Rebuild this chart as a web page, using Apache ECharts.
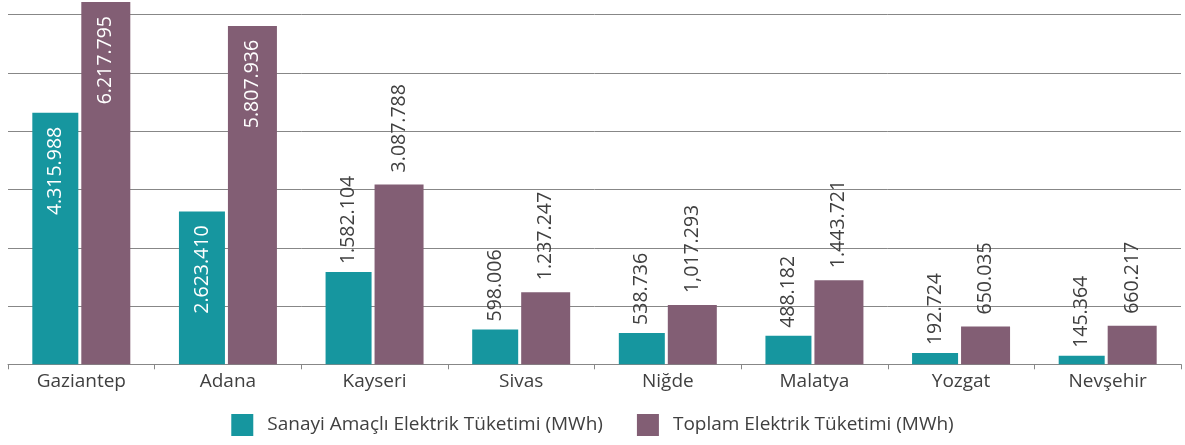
<!DOCTYPE html>
<html><head><meta charset="utf-8">
<script src="https://cdn.jsdelivr.net/npm/echarts@6/dist/echarts.min.js"></script>
<style>html,body{margin:0;padding:0;background:#fff}#c{width:1185px;height:445px}</style>
</head><body><div id="c"></div>
<script>
const categories = ['Gaziantep','Adana','Kayseri','Sivas','Niğde','Malatya','Yozgat','Nevşehir'];
const sanayiValues = [4315988, 2623410, 1582104, 598006, 538736, 488182, 192724, 145364];
const toplamValues = [6217795, 5807936, 3087788, 1237247, 1017293, 1443721, 650035, 660217];
const sanayiLabels = ['4.315.988','2.623.410','1.582.104','598.006','538.736','488.182','192.724','145.364'];
const toplamLabels = ['6.217.795','5.807.936','3.087.788','1.237.247','1,017.293','1.443.721','650.035','660.217'];
const seriesNames = ['Sanayi Amaçlı Elektrik Tüketimi (MWh)','Toplam Elektrik Tüketimi (MWh)'];
// categories whose value labels sit inside the bars
const insideLabelCategories = ['Gaziantep','Adana'];

const FONT = 'Open Sans';

function buildData(values, labels, outsideDist){
  return values.map((v,i)=>{
    const inside = insideLabelCategories.includes(categories[i]);
    const pos = inside
      ? {position:'insideTop', rotate:90, align:'right', verticalAlign:'middle', distance:14, color:'#ffffff'}
      : {position:'top', rotate:90, align:'left', verticalAlign:'middle', distance:outsideDist, color:'#404040'};
    return {value: v, label: Object.assign({show:true, formatter: labels[i], fontFamily: FONT, fontSize: 19.5}, pos)};
  });
}

const chart = echarts.init(document.getElementById('c'), null, {renderer:'canvas'});
chart.setOption({
  animation:false,
  textStyle:{fontFamily:FONT},
  grid:{left:8, right:4, top:14.7, bottom:80.7, containLabel:false},
  legend:{
    bottom: 4, left:'center',
    itemWidth:22, itemHeight:22, itemGap:34,
    icon:'rect',
    textStyle:{fontFamily:FONT, fontSize:19, color:'#404040', padding:[0,0,0,9]},
    data: seriesNames
  },
  xAxis:{
    type:'category', data:categories,
    axisLine:{lineStyle:{color:'#878787', width:1}},
    axisTick:{show:true, length:5, lineStyle:{color:'#878787'}},
    axisLabel:{fontFamily:FONT, fontSize:19, color:'#404040', margin:8}
  },
  yAxis:{
    type:'value', min:0, max:6000000, interval:1000000,
    axisLabel:{show:false}, axisLine:{show:false}, axisTick:{show:false},
    splitLine:{lineStyle:{color:'#878787', width:1}}
  },
  series:[
    {name:seriesNames[0], type:'bar', data:buildData(sanayiValues, sanayiLabels, 8),
     barWidth:46, barGap:'6.5%', clip:false, itemStyle:{color:'#16969f'}},
    {name:seriesNames[1], type:'bar', data:buildData(toplamValues, toplamLabels, 12),
     barWidth:49, barGap:'6.5%', clip:false, itemStyle:{color:'#825e74'}}
  ]
});
</script></body></html>
